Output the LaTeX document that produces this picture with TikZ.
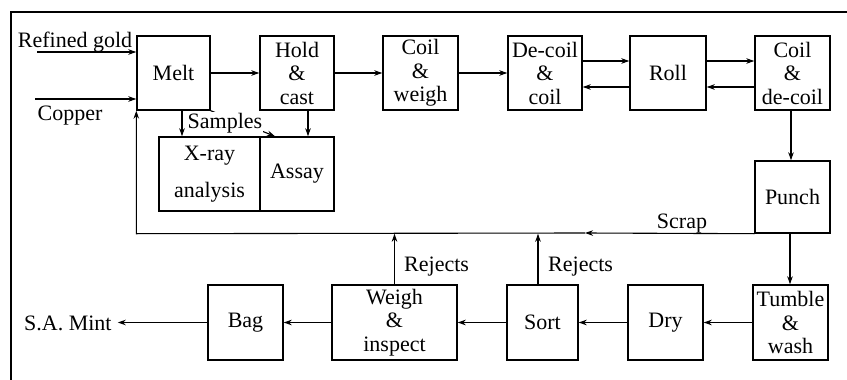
\documentclass[tikz,border=0pt]{standalone}
\usepackage{fontspec}
\setmainfont{Liberation Serif}
\usetikzlibrary{arrows.meta}
\begin{document}
\begin{tikzpicture}[x=1pt,y=-1pt,
  every node/.style={font=\fontsize{22}{23.5}\selectfont},
  box/.style={draw, line width=1.4pt, align=center, inner sep=0pt,
              minimum height=74pt, minimum width=74pt},
  arr/.style={line width=1.1pt, -{Stealth[length=8pt,width=5.5pt]}},
  lbl/.style={inner sep=0pt},
]
\useasboundingbox (0,0) rectangle (847,380);
% frame (top and left edges)
\draw[line width=1.2pt] (11,380) -- (11,12) -- (847,12);

% upper row
\node[box, minimum width=73pt] (melt)   at (173.5,73) {Melt};
\node[box]                     (hold)   at (297,73)   {Hold\\\&\\cast};
\node[box, minimum width=75pt] (coilw)  at (420.5,73) {Coil\\\&\\weigh};
\node[box]                     (decoil) at (545,73)   {De-coil\\\&\\coil};
\node[box, minimum width=76pt] (roll)   at (668,73)   {Roll};
\node[box, minimum width=75pt] (coild)  at (792.5,73) {Coil\\\&\\de-coil};

% sampling boxes
\node[box, minimum width=101pt] (xray)  at (209.5,174) {X-ray\\[13pt]analysis};
\node[box]                      (assay) at (297,174)   {Assay};

% right column
\node[box, minimum width=75pt, minimum height=72pt] (punch) at (792.5,197) {Punch};

% lower row
\node[box, minimum width=75pt, minimum height=75pt] (tumble) at (790.5,322.5) {Tumble\\\&\\wash};
\node[box, minimum width=75pt, minimum height=75pt] (dry)    at (665.5,322.5) {Dry};
\node[box, minimum width=71pt, minimum height=75pt] (sort)   at (542.5,322.5) {Sort};
\node[box, minimum width=125pt, minimum height=75pt] (weigh) at (394.5,322.5) {Weigh\\\&\\inspect};
\node[box, minimum width=75pt, minimum height=75pt] (bag)    at (245.5,322.5) {Bag};

% inputs and output
\node[lbl, anchor=base] (gold)   at (75,47)  {Refined gold};
\node[lbl, anchor=base] (copper) at (70,120) {Copper};
\node[lbl, anchor=base west] (mint) at (24,330) {S.A.\ Mint};
\coordinate (goldin)   at (37,52);
\coordinate (copperin) at (35,99);
\draw[arr] (goldin) -- (goldin -| melt.west);
\draw[arr] (copperin) -- (copperin -| melt.west);

% main flow
\draw[arr] (melt) -- (hold);
\draw[arr] (hold) -- (coilw);
\draw[arr] (coilw) -- (decoil);
\draw[arr] ([yshift=12pt]decoil.east) -- ([yshift=12pt]roll.west);
\draw[arr] ([yshift=-14pt]roll.west) -- ([yshift=-14pt]decoil.east);
\draw[arr] ([yshift=12pt]roll.east) -- ([yshift=12pt]coild.west);
\draw[arr] ([yshift=-14pt]coild.west) -- ([yshift=-14pt]roll.east);
\draw[arr] ([xshift=-1.5pt]coild.south) -- ([xshift=-1.5pt]coild.south |- punch.north);
\draw[arr] ([xshift=-2.5pt]punch.south) -- ([xshift=-2.5pt]punch.south |- tumble.north);
\draw[arr] (tumble) -- (dry);
\draw[arr] (dry) -- (sort);
\draw[arr] (sort) -- (weigh);
\draw[arr] (weigh) -- (bag);
\draw[arr] (bag.west) -- ([xshift=6pt]bag.west -| mint.east);

% samples
\draw[arr] ([xshift=8.5pt]melt.south) -- ([xshift=8.5pt]melt.south |- xray.north);
\draw[arr] ([xshift=11pt]hold.south) -- ([xshift=11pt]hold.south |- assay.north);
\draw[arr] (melt.south east) -- ([xshift=-22pt]assay.north);
\node[lbl, fill=white, inner sep=1pt, anchor=base] (samples) at (225,128) {Samples};

% scrap and reject return line
\coordinate (scrapmark) at (585,233);
\coordinate (scrapend)  at (melt.south west |- punch.south west);
\draw[arr] (punch.south west) -- (scrapmark);
\draw[arr] (scrapmark) -- (scrapend) -- (melt.south west);
\node[lbl, anchor=base] (scrap) at (682,228) {Scrap};
\draw[arr] (weigh.north) -- (weigh.north |- punch.south);
\draw[arr] ([xshift=-4.5pt]sort.north) -- ([xshift=-4.5pt]sort.north |- punch.south);
\node[lbl, anchor=base west] (rej1) at (404,271) {Rejects};
\node[lbl, anchor=base west] (rej2) at (548,271) {Rejects};
\end{tikzpicture}
\end{document}
